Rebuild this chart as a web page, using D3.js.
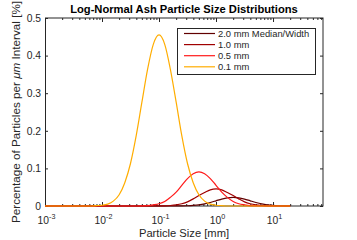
<!DOCTYPE html>
<html>
<head>
<meta charset="utf-8">
<script src="https://cdn.jsdelivr.net/npm/d3@7"></script>
<style>
  body { margin: 0; background: #fff; }
  svg { display: block; font-family: "Liberation Sans", Arial, sans-serif; }
</style>
</head>
<body>
<div id="graph"></div>
<script>
// particle sizes in mm (shared x grid)
var sizes = [0.001, 0.0063, 0.0079, 0.01, 0.0126, 0.0158, 0.02, 0.0251, 0.0316, 0.0398,
  0.0501, 0.0631, 0.0794, 0.1, 0.126, 0.158, 0.2, 0.251, 0.316, 0.398,
  0.501, 0.631, 0.794, 1, 1.26, 1.58, 2, 2.51, 3.16, 3.98,
  5.01, 6.31, 7.94, 10, 12.6, 15.8, 20];

// percentage per um interval
var d20 = [0, 0, 0, 0, 0, 0, 0, 0, 0, 0, 0, 0, 0, 0, 0, 0,
  0.0001, 0.0003, 0.0007, 0.0015, 0.0031, 0.0057, 0.0094, 0.0138, 0.0183, 0.0216, 0.0228,
  0.0216, 0.0183, 0.0138, 0.0094, 0.0057, 0.0031, 0.0015, 0.0007, 0.0003, 0.0001];
var d10 = [0, 0, 0, 0, 0, 0, 0, 0, 0, 0, 0, 0, 0,
  0.0002, 0.0005, 0.0013, 0.003, 0.006, 0.011, 0.019, 0.028, 0.036, 0.043, 0.0455,
  0.043, 0.036, 0.028, 0.019, 0.011, 0.006, 0.003, 0.0013, 0.0005, 0.0002, 0, 0, 0];
var d05 = [0, 0, 0, 0, 0, 0, 0, 0, 0, 0,
  0.0004, 0.001, 0.003, 0.006, 0.012, 0.023, 0.037, 0.055, 0.073, 0.086, 0.091,
  0.086, 0.073, 0.055, 0.037, 0.023, 0.012, 0.006, 0.003, 0.001, 0.0004, 0, 0, 0, 0, 0, 0];
var d01 = [0, 0, 0.001, 0.002, 0.005, 0.013, 0.030, 0.062, 0.113, 0.187, 0.276, 0.364, 0.430,
  0.455, 0.430, 0.364, 0.276, 0.187, 0.113, 0.062, 0.030, 0.013, 0.005, 0.002, 0.001,
  0, 0, 0, 0, 0, 0, 0, 0, 0, 0, 0, 0];

var seriesNames = ["2.0 mm Median/Width", "1.0 mm", "0.5 mm", "0.1 mm"];
var seriesData = [d20, d10, d05, d01];
var seriesColors = ["#620000", "#a00000", "#ff1a1a", "#ffad00"];

var xMajor = [0.001, 0.01, 0.1, 1, 10];
var xExp = ["-3", "-2", "-1", "0", "1"];
var yTicks = [0, 0.1, 0.2, 0.3, 0.4, 0.5];

var W = 357, H = 240;
var pl = 45, pr = 323, pt = 18, pb = 206;

var x = d3.scaleLog().domain([0.001, 75.3]).range([pl, pr]);
var y = d3.scaleLinear().domain([0, 0.5]).range([pb, pt]);

var xMinor = [];
[0.001, 0.01, 0.1, 1, 10].forEach(function(p) {
  for (var k = 2; k <= 9; k++) if (k * p < 75.3) xMinor.push(k * p);
});

var svg = d3.create("svg").attr("width", W).attr("height", H);
var ink = "#262626";

// ticks (inward, mirrored)
function tickAxis(gen, tr) {
  var g = svg.append("g").attr("transform", tr).call(gen);
  g.select(".domain").remove();
  g.selectAll("line").attr("stroke", ink);
  return g;
}
tickAxis(d3.axisBottom(x).tickValues(xMajor).tickSize(-4).tickFormat(""), "translate(0," + pb + ")");
tickAxis(d3.axisBottom(x).tickValues(xMinor).tickSize(-2).tickFormat(""), "translate(0," + pb + ")");
tickAxis(d3.axisTop(x).tickValues(xMajor).tickSize(-4).tickFormat(""), "translate(0," + pt + ")");
tickAxis(d3.axisTop(x).tickValues(xMinor).tickSize(-2).tickFormat(""), "translate(0," + pt + ")");
tickAxis(d3.axisLeft(y).tickValues(yTicks).tickSize(-3).tickFormat(""), "translate(" + pl + ",0)");
tickAxis(d3.axisRight(y).tickValues(yTicks).tickSize(-3).tickFormat(""), "translate(" + pr + ",0)");

// box
svg.append("rect")
    .attr("x", pl + 0.5).attr("y", pt).attr("width", pr - pl - 0.5).attr("height", pb - pt)
    .attr("fill", "none").attr("stroke", ink).attr("stroke-width", 1);

// tick labels
svg.append("g")
    .attr("font-size", 10.3).attr("fill", ink).attr("text-anchor", "end")
  .selectAll("text").data(yTicks).join("text")
    .attr("x", pl - 4)
    .attr("y", d => y(d) + 3.7)
    .text(d => d === 0 ? "0" : d3.format(".1f")(d));

var xl = svg.append("g")
    .attr("font-size", 10.3).attr("fill", ink).attr("text-anchor", "middle")
  .selectAll("text").data(xMajor).join("text")
    .attr("x", d => x(d) + 1.5)
    .attr("y", 223.5);
xl.append("tspan").text("10");
xl.append("tspan").attr("font-size", 7.2).attr("dy", -4.5).text((d, i) => xExp[i]);

// lines
var line = d3.line()
    .x((d, i) => x(sizes[i]))
    .y(d => y(d))
    .curve(d3.curveMonotoneX);

svg.append("g")
    .attr("fill", "none").attr("stroke-width", 1.2)
  .selectAll("path").data(seriesData).join("path")
    .attr("stroke", (d, i) => seriesColors[i])
    .attr("d", line);

// legend
var lg = svg.append("g");
lg.append("rect")
    .attr("x", 177.5).attr("y", 28.5).attr("width", 138).attr("height", 46)
    .attr("fill", "#fff").attr("stroke", ink).attr("stroke-width", 1);
var rows = lg.selectAll("g.row").data(seriesNames).join("g")
    .attr("transform", (d, i) => "translate(0," + (33.5 + i * 11.1) + ")");
rows.append("line")
    .attr("x1", 184).attr("x2", 215)
    .attr("stroke", (d, i) => seriesColors[i]).attr("stroke-width", 1.2);
rows.append("text")
    .attr("x", 218).attr("y", 3.4)
    .attr("font-size", 9.4).attr("fill", ink)
    .text(d => d);

// titles
svg.append("text")
    .attr("x", (pl + pr) / 2).attr("y", 12.5)
    .attr("text-anchor", "middle").attr("font-size", 11.2).attr("font-weight", "bold")
    .attr("fill", "#000")
    .text("Log-Normal Ash Particle Size Distributions");

svg.append("text")
    .attr("x", (pl + pr) / 2).attr("y", 236.5)
    .attr("text-anchor", "middle").attr("font-size", 11.2).attr("fill", ink)
    .text("Particle Size [mm]");

var yl = svg.append("text")
    .attr("transform", "translate(19.5," + ((pt + pb) / 2) + ") rotate(-90)")
    .attr("text-anchor", "middle").attr("font-size", 11.7).attr("fill", ink);
yl.append("tspan").text("Percentage of Particles per ");
yl.append("tspan").attr("font-style", "italic").text("\u03bcm");
yl.append("tspan").text(" Interval [%]");

d3.select("#graph").append(function() { return svg.node(); });
</script>
</body>
</html>
